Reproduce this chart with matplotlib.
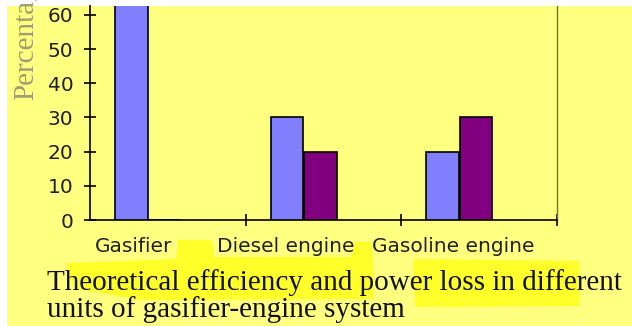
import matplotlib

matplotlib.use("Agg")
import matplotlib.pyplot as plt
import numpy as np
from matplotlib.patches import Polygon, Rectangle

categories = ["Gasifier", "Diesel engine", "Gasoline engine"]
efficiency = [70, 30, 20]
power_loss = [0, 20, 30]
y_ticks = [0, 10, 20, 30, 40, 50, 60]

W, H = 632, 326
BG = "#ffff80"
HIGHLIGHT = "#ffff1a"
BLUE = "#8080ff"
PURPLE = "#800080"
# category labels sit a little left of the group centre
label_shift = [-0.22, -0.245, -0.165]


def fx(px):
    return px / W


def fy(py):
    return 1 - py / H


fig = plt.figure(figsize=(W / 100, H / 100), dpi=100, facecolor="white")

# yellow page with a white margin on top and left
fig.patches.append(Rectangle((fx(7), 0), 1, fy(6), transform=fig.transFigure,
                             facecolor=BG, edgecolor="none", zorder=-10))

# highlighter strokes behind the caption
marks = [
    [(66, 263), (176, 259), (178, 240), (212, 240), (214, 257), (352, 257),
     (354, 242), (372, 242), (374, 299), (140, 300), (73, 288)],
    [(413, 259), (580, 261), (580, 306), (415, 307)],
]
for pts in marks:
    fig.patches.append(Polygon([(fx(x), fy(y)) for x, y in pts], closed=True,
                               transform=fig.transFigure, facecolor=HIGHLIGHT,
                               edgecolor="none", alpha=0.85, zorder=-9))

ax = fig.add_axes([fx(90), fy(220), fx(557) - fx(90), fy(6) - fy(220)])
ax.set_facecolor("none")

x = np.arange(len(categories))
w = 0.21
ax.bar(x - 0.235, efficiency, w, color=BLUE, edgecolor="black", linewidth=1.2,
       zorder=3)
ax.bar(x - 0.02, power_loss, w, color=PURPLE, edgecolor="black", linewidth=1.2,
       zorder=3)

ax.set_xlim(-0.5, 2.5)
ax.set_ylim(0, 62.6)

ax.set_yticks(y_ticks)
ax.set_yticklabels([str(v) for v in y_ticks])
ax.tick_params(axis="y", direction="inout", length=8, width=1.2, pad=8,
               labelsize=14.5, labelcolor="#202020")

ax.set_xticks(x + 0.5)
ax.set_xticklabels([])
ax.set_xticks(x + np.array(label_shift), categories, minor=True)
ax.tick_params(axis="x", which="major", direction="inout", length=9, width=1.2)
ax.tick_params(axis="x", which="minor", length=0, pad=12, labelsize=14.5,
               labelcolor="#202020")

for side in ("left", "bottom"):
    ax.spines[side].set_linewidth(1.2)
ax.spines["top"].set_visible(False)
ax.spines["right"].set_color("#707050")
ax.spines["right"].set_linewidth(1.0)

# axis title runs off the top of the page
fig.text(fx(26), fy(100), "Percentage", rotation=90, ha="center", va="bottom",
         family="Liberation Serif", fontsize=21, color="#a09c72")

caption = ["Theoretical efficiency and power loss in different",
           "units of gasifier-engine system"]
for line, base in zip(caption, [290, 317]):
    fig.text(fx(47), fy(base), line, ha="left", va="baseline",
             family="Liberation Serif", fontsize=21, color="#111111")

fig.savefig("out.png", dpi=100, facecolor="white")
